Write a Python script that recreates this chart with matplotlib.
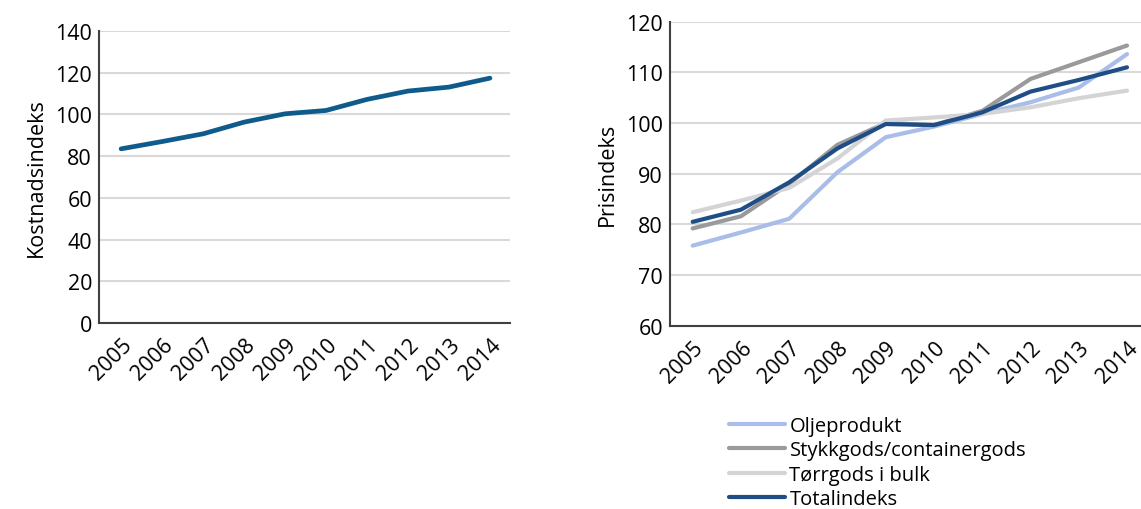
import numpy as np
import matplotlib.pyplot as plt

plt.rcParams['font.family'] = ['Open Sans', 'DejaVu Sans']

years = ["2005", "2006", "2007", "2008", "2009", "2010", "2011", "2012", "2013", "2014"]

# venstre figur
kostnadsindeks = [83.5, 87.0, 90.7, 96.3, 100.3, 101.9, 107.2, 111.2, 113.1, 117.4]

# hoyre figur
oljeprodukt = [75.8, 78.4, 81.1, 90.3, 97.2, 99.3, 101.8, 104.1, 107.0, 113.6]
stykkgods = [79.2, 81.6, 88.0, 95.7, 100.0, 99.6, 102.4, 108.7, 112.0, 115.3]
torrgods = [82.4, 84.7, 87.2, 93.0, 100.5, 101.1, 101.8, 103.1, 104.9, 106.4]
totalindeks = [80.5, 82.9, 88.3, 95.0, 99.8, 99.6, 102.1, 106.2, 108.5, 111.0]

series = [
    ("Oljeprodukt", oljeprodukt, "#a9bde8"),
    ("Stykkgods/containergods", stykkgods, "#9a9a9c"),
    ("Tørrgods i bulk", torrgods, "#d4d4d6"),
    ("Totalindeks", totalindeks, "#1f4e86"),
]

W, H = 1141, 510
fig = plt.figure(figsize=(W / 100, H / 100), dpi=100)


def style_axes(ax):
    ax.grid(axis="y", color="#d9d9d9", linewidth=1.5)
    ax.set_axisbelow(True)
    for side in ("top", "right"):
        ax.spines[side].set_visible(False)
    for side in ("left", "bottom"):
        ax.spines[side].set_color("#404040")
        ax.spines[side].set_linewidth(1.5)
    ax.tick_params(length=0, labelsize=15.5, pad=5)
    ax.tick_params(axis="x", pad=8)
    ax.set_xticks(np.arange(len(years)))
    ax.set_xticklabels(years, rotation=45, ha="right", va="top",
                       rotation_mode="anchor")


x = np.arange(len(years))

ax1 = fig.add_axes([99 / W, 1 - 324 / H, (510 - 99) / W, (324 - 32) / H])
ax1.plot(x, kostnadsindeks, color="#0f5b8c", linewidth=3.4,
         solid_capstyle="round")
ax1.set_xlim(-0.54, 9.49)
ax1.set_ylim(0, 140)
ax1.set_yticks(range(0, 141, 20))
style_axes(ax1)
ax1.set_ylabel("Kostnadsindeks", fontsize=15.5, labelpad=6)

ax2 = fig.add_axes([670 / W, 1 - 326.7 / H, (W - 670) / W, (326.7 - 22.7) / H])
for name, vals, col in series:
    ax2.plot(x, vals, color=col, linewidth=3, label=name,
             solid_capstyle="round")
ax2.set_xlim(-0.47, 9.29)
ax2.set_ylim(60, 120)
ax2.set_yticks(range(60, 121, 10))
style_axes(ax2)
ax2.set_ylabel("Prisindeks", fontsize=15.5, labelpad=6)

fig.legend(loc="upper left", bbox_to_anchor=(721 / W, 1 - 409 / H),
           frameon=False, fontsize=14.5, handlelength=2.8, handletextpad=0.2,
           labelspacing=0.22, borderaxespad=0)

fig.savefig("out.png", dpi=100)
